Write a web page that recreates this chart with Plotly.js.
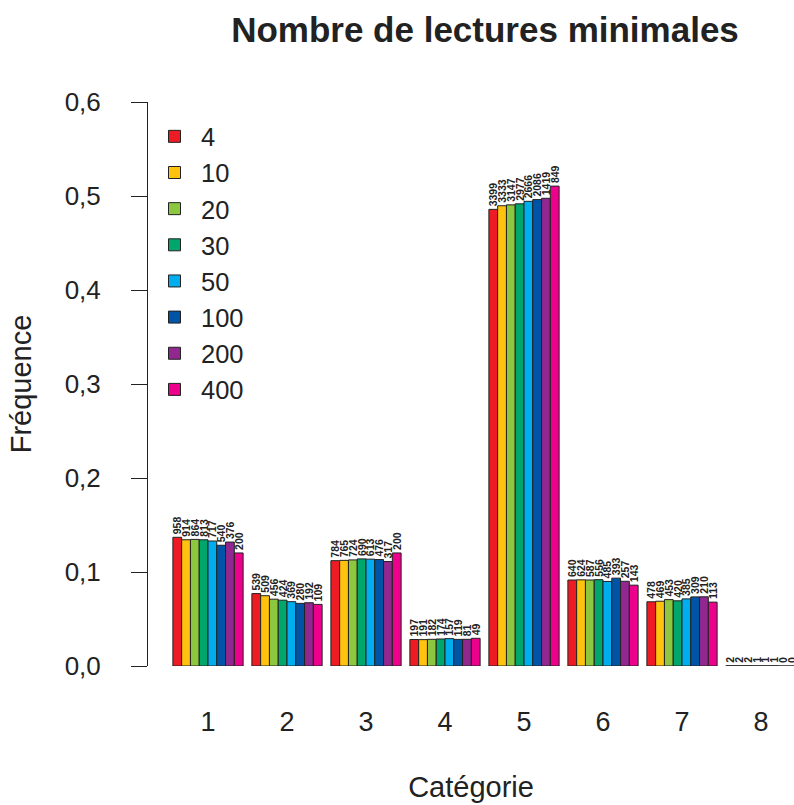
<!DOCTYPE html>
<html>
<head>
<meta charset="utf-8">
<script src="https://cdn.plot.ly/plotly-3.0.1.min.js"></script>
<style>html,body{margin:0;padding:0;overflow:hidden;background:#fff}#chart{width:794px;height:805px}</style>
</head>
<body>
<div id="chart"></div>
<script>
// Categories (x)
const categories = ['1','2','3','4','5','6','7','8'];
// Series names (minimum read count)
const seriesNames = ['4','10','20','30','50','100','200','400'];
// Counts shown above bars, per series, per category
const s4   = [958, 539, 784, 197, 3399, 640, 478, 2];
const s10  = [914, 509, 765, 191, 3333, 624, 469, 2];
const s20  = [864, 456, 724, 182, 3147, 587, 453, 2];
const s30  = [813, 424, 690, 174, 2977, 556, 420, 1];
const s50  = [717, 369, 613, 157, 2666, 485, 385, 1];
const s100 = [540, 280, 476, 119, 2086, 393, 309, 1];
const s200 = [376, 192, 317, 81, 1419, 257, 210, 0];
const s400 = [200, 109, 200, 49, 849, 143, 113, 0];
const seriesCounts = [s4, s10, s20, s30, s50, s100, s200, s400];
const colors = ['#ED1C24','#FFC20E','#8DC63F','#00A66C','#00AEEF','#0054A6','#92278F','#EC008C'];

const traces = seriesCounts.map((counts, j) => {
  const total = counts.reduce((a, b) => a + b, 0);
  return {
    type: 'bar',
    name: seriesNames[j],
    legendgroup: 'g' + j,
    x: categories.map((c, i) => i),
    y: counts.map(v => v / total),
    text: counts.map(String),
    textposition: 'outside',
    textangle: -90,
    constraintext: 'none',
    cliponaxis: true,
    textfont: {family: 'Liberation Sans, Arial, sans-serif', size: 10.5, color: '#222', weight: 'bold'},
    marker: {color: colors[j], line: {color: '#222', width: 1}},
    hoverinfo: 'skip'
  };
});

const layout = {
  width: 794, height: 805,
  margin: {l: 148, r: 0, t: 102, b: 139, pad: 0},
  paper_bgcolor: '#fff', plot_bgcolor: '#fff',
  separators: ',.',
  font: {family: 'Liberation Sans, Arial, sans-serif', color: '#222', size: 27},
  title: {text: '<b>Nombre de lectures minimales</b>', font: {size: 35, color: '#222'},
          x: 485/794, xref: 'container', xanchor: 'center', y: 1 - 30/805, yref: 'container', yanchor: 'middle'},
  barmode: 'group', bargap: 1/9, bargroupgap: 0,
  showlegend: true,
  legend: {x: 0.0, y: 0.98, xanchor: 'left', yanchor: 'top', bgcolor: 'rgba(0,0,0,0)',
           font: {size: 25.5, color: '#222'}, tracegroupgap: 0, traceorder: 'normal', itemwidth: 43},
  xaxis: {
    range: [-60/79, -60/79 + 646/79],
    tickvals: categories.map((c, i) => i), ticktext: categories,
    ticks: 'outside', ticklen: 32, tickcolor: 'rgba(0,0,0,0)',
    showgrid: false, zeroline: false, showline: false,
    tickfont: {size: 27, color: '#222'},
    title: {text: 'Catégorie', font: {size: 29, color: '#222'}, standoff: 40},
    fixedrange: true
  },
  yaxis: {
    range: [0, 0.6], tickvals: [0, 0.1, 0.2, 0.3, 0.4, 0.5, 0.6], tickformat: '.1f',
    ticks: 'outside', ticklen: 16, tickwidth: 1, tickcolor: '#222',
    ticklabelstandoff: 25,
    showline: true, linecolor: '#222', linewidth: 1,
    showgrid: false, zeroline: false,
    tickfont: {size: 26, color: '#222'},
    title: {text: 'Fréquence', font: {size: 29, color: '#222'}, standoff: 24},
    fixedrange: true
  }
};

Plotly.newPlot('chart', traces, layout, {staticPlot: true, displayModeBar: false});
</script>
</body>
</html>
